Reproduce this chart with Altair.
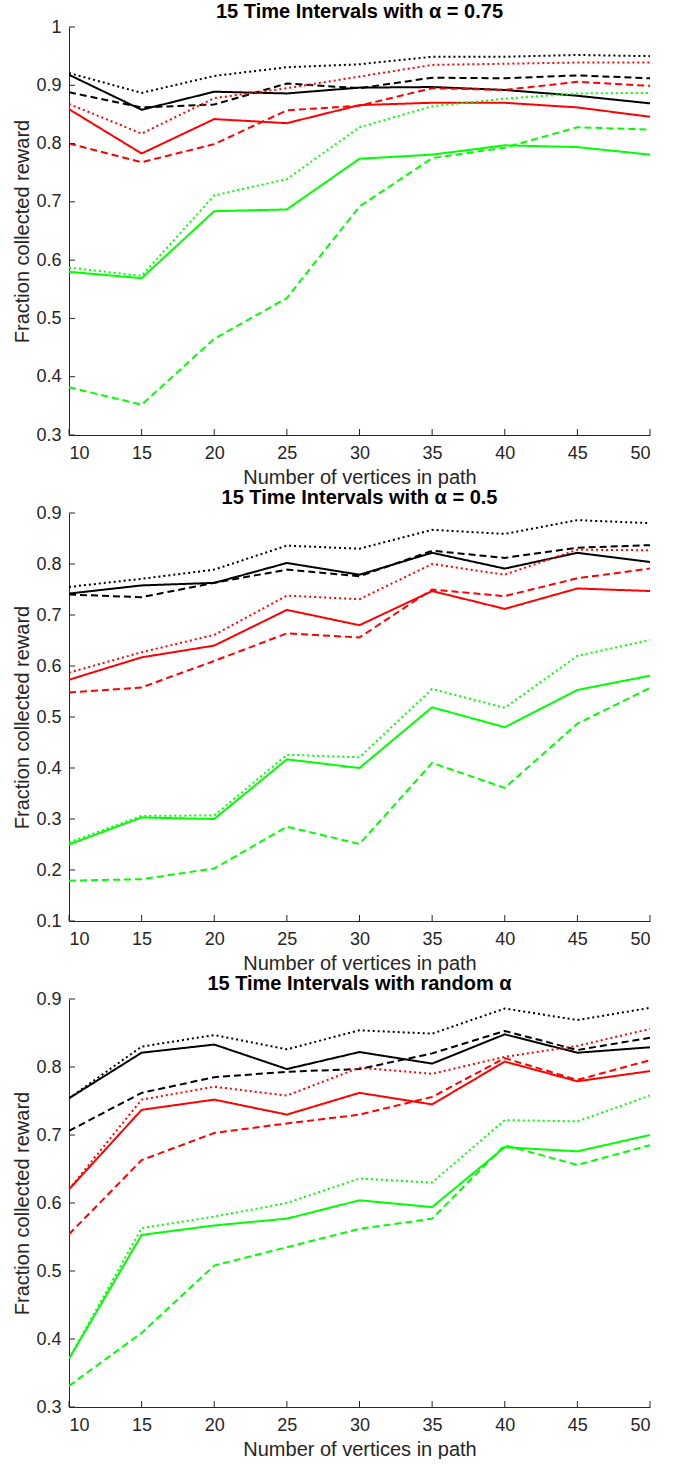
import altair as alt
import pandas as pd

# ---------------- data ----------------
x_vals = [10, 15, 20, 25, 30, 35, 40, 45, 50]
colors = ["black", "red", "green"]
styles = ["solid", "dashed", "dotted"]

# Panel 1: alpha = 0.75
p1_black_solid = [0.918, 0.858, 0.889, 0.886, 0.896, 0.897, 0.892, 0.882, 0.869]
p1_black_dashed = [0.888, 0.862, 0.867, 0.903, 0.895, 0.913, 0.912, 0.917, 0.912]
p1_black_dotted = [0.921, 0.887, 0.916, 0.931, 0.936, 0.949, 0.949, 0.952, 0.950]
p1_red_solid = [0.859, 0.783, 0.842, 0.835, 0.866, 0.870, 0.870, 0.862, 0.846]
p1_red_dashed = [0.800, 0.768, 0.799, 0.857, 0.865, 0.895, 0.892, 0.906, 0.899]
p1_red_dotted = [0.868, 0.817, 0.878, 0.895, 0.915, 0.935, 0.937, 0.939, 0.939]
p1_green_solid = [0.580, 0.569, 0.684, 0.687, 0.774, 0.781, 0.797, 0.794, 0.781]
p1_green_dashed = [0.382, 0.352, 0.465, 0.535, 0.692, 0.775, 0.793, 0.828, 0.824]
p1_green_dotted = [0.587, 0.573, 0.711, 0.739, 0.828, 0.864, 0.877, 0.886, 0.887]

# Panel 2: alpha = 0.5
p2_black_solid = [0.742, 0.758, 0.763, 0.802, 0.779, 0.822, 0.791, 0.822, 0.804]
p2_black_dashed = [0.740, 0.735, 0.763, 0.789, 0.776, 0.826, 0.812, 0.832, 0.837]
p2_black_dotted = [0.755, 0.771, 0.789, 0.836, 0.830, 0.867, 0.859, 0.886, 0.880]
p2_red_solid = [0.573, 0.617, 0.640, 0.710, 0.680, 0.747, 0.712, 0.752, 0.747]
p2_red_dashed = [0.548, 0.558, 0.610, 0.664, 0.656, 0.750, 0.737, 0.772, 0.791]
p2_red_dotted = [0.587, 0.627, 0.661, 0.738, 0.731, 0.800, 0.779, 0.828, 0.827]
p2_green_solid = [0.250, 0.303, 0.300, 0.417, 0.400, 0.519, 0.480, 0.553, 0.581]
p2_green_dashed = [0.179, 0.182, 0.203, 0.285, 0.251, 0.410, 0.361, 0.487, 0.557]
p2_green_dotted = [0.254, 0.306, 0.307, 0.426, 0.421, 0.555, 0.518, 0.620, 0.651]

# Panel 3: random alpha
p3_black_solid = [0.754, 0.821, 0.833, 0.797, 0.822, 0.805, 0.848, 0.821, 0.829]
p3_black_dashed = [0.706, 0.762, 0.785, 0.793, 0.797, 0.820, 0.853, 0.825, 0.843]
p3_black_dotted = [0.754, 0.830, 0.847, 0.826, 0.854, 0.849, 0.886, 0.869, 0.887]
p3_red_solid = [0.620, 0.737, 0.752, 0.730, 0.762, 0.745, 0.808, 0.779, 0.794]
p3_red_dashed = [0.554, 0.663, 0.703, 0.717, 0.730, 0.756, 0.813, 0.781, 0.810]
p3_red_dotted = [0.620, 0.752, 0.771, 0.758, 0.799, 0.790, 0.815, 0.831, 0.856]
p3_green_solid = [0.371, 0.553, 0.567, 0.577, 0.604, 0.594, 0.682, 0.676, 0.700]
p3_green_dashed = [0.331, 0.409, 0.508, 0.535, 0.562, 0.577, 0.685, 0.656, 0.685]
p3_green_dotted = [0.371, 0.563, 0.580, 0.600, 0.636, 0.630, 0.722, 0.720, 0.758]

panels = [
    {
        "title": "15 Time Intervals with α = 0.75",
        "domain": [0.3, 1.0],
        "yticks": [0.3, 0.4, 0.5, 0.6, 0.7, 0.8, 0.9, 1.0],
        "series": {
            ("black", "solid"): p1_black_solid, ("black", "dashed"): p1_black_dashed,
            ("black", "dotted"): p1_black_dotted, ("red", "solid"): p1_red_solid,
            ("red", "dashed"): p1_red_dashed, ("red", "dotted"): p1_red_dotted,
            ("green", "solid"): p1_green_solid, ("green", "dashed"): p1_green_dashed,
            ("green", "dotted"): p1_green_dotted,
        },
    },
    {
        "title": "15 Time Intervals with α = 0.5",
        "domain": [0.1, 0.9],
        "yticks": [0.1, 0.2, 0.3, 0.4, 0.5, 0.6, 0.7, 0.8, 0.9],
        "series": {
            ("black", "solid"): p2_black_solid, ("black", "dashed"): p2_black_dashed,
            ("black", "dotted"): p2_black_dotted, ("red", "solid"): p2_red_solid,
            ("red", "dashed"): p2_red_dashed, ("red", "dotted"): p2_red_dotted,
            ("green", "solid"): p2_green_solid, ("green", "dashed"): p2_green_dashed,
            ("green", "dotted"): p2_green_dotted,
        },
    },
    {
        "title": "15 Time Intervals with random α",
        "domain": [0.3, 0.9],
        "yticks": [0.3, 0.4, 0.5, 0.6, 0.7, 0.8, 0.9],
        "series": {
            ("black", "solid"): p3_black_solid, ("black", "dashed"): p3_black_dashed,
            ("black", "dotted"): p3_black_dotted, ("red", "solid"): p3_red_solid,
            ("red", "dashed"): p3_red_dashed, ("red", "dotted"): p3_red_dotted,
            ("green", "solid"): p3_green_solid, ("green", "dashed"): p3_green_dashed,
            ("green", "dotted"): p3_green_dotted,
        },
    },
]

x_ticks = [10, 15, 20, 25, 30, 35, 40, 45, 50]

W = 581
H = 408
AX = "#262626"
FONT = "Liberation Sans"

charts = []
for p in panels:
    rows = []
    for (c, s), vals in p["series"].items():
        for xv, yv in zip(x_vals, vals):
            rows.append({"x": xv, "v": yv, "c": c, "s": s, "series": f"{c}-{s}"})
    df = pd.DataFrame(rows)

    xs = alt.Scale(domain=[10, 50], nice=False, zero=False)
    ys = alt.Scale(domain=p["domain"], nice=False, zero=False)

    lines = alt.Chart(df).mark_line(strokeWidth=2, clip=True).encode(
        x=alt.X("x:Q", scale=xs,
                axis=alt.Axis(values=x_ticks, title="Number of vertices in path",
                              format="d")),
        y=alt.Y("v:Q", scale=ys,
                axis=alt.Axis(values=p["yticks"], title="Fraction collected reward",
                              format=".1~f")),
        color=alt.Color("c:N", scale=alt.Scale(domain=colors,
                                               range=["#000000", "#ff0000", "#00ff00"]),
                        legend=None),
        strokeDash=alt.StrokeDash("s:N", scale=alt.Scale(domain=styles,
                                                          range=[[1, 0], [7, 4], [2, 3]]),
                                  legend=None),
        detail="series:N",
        order="x:Q",
    )

    xt = alt.Chart(pd.DataFrame({"x": x_ticks})).mark_rule(color=AX, strokeWidth=1).encode(
        x=alt.X("x:Q", scale=xs),
        y=alt.value(H),
        y2=alt.value(H - 6),
    )
    yt = alt.Chart(pd.DataFrame({"v": p["yticks"]})).mark_rule(color=AX, strokeWidth=1).encode(
        y=alt.Y("v:Q", scale=ys),
        x=alt.value(0),
        x2=alt.value(6),
    )

    ch = alt.layer(lines, xt, yt).properties(
        width=W, height=H,
        title=alt.TitleParams(p["title"], fontSize=20, fontWeight="bold", font=FONT,
                              color="#000000", anchor="middle", offset=-4),
    )
    charts.append(ch)

chart = alt.vconcat(*charts, spacing=1).properties(
    padding={"left": 12, "top": 2, "right": 5, "bottom": 0}
).configure_view(stroke=None).configure_axis(
    ticks=False, tickSize=0, grid=False,
    domainColor=AX, domainWidth=1,
    labelColor=AX, labelFont=FONT, labelFontSize=18, labelPadding=10,
    titleColor=AX, titleFont=FONT, titleFontSize=20, titleFontWeight="normal",
).configure_axisX(
    labelPadding=9, titlePadding=5,
).configure_axisY(
    labelPadding=8, titlePadding=3,
)

chart.save("out.html", embed_options={"renderer": "svg", "actions": False})
